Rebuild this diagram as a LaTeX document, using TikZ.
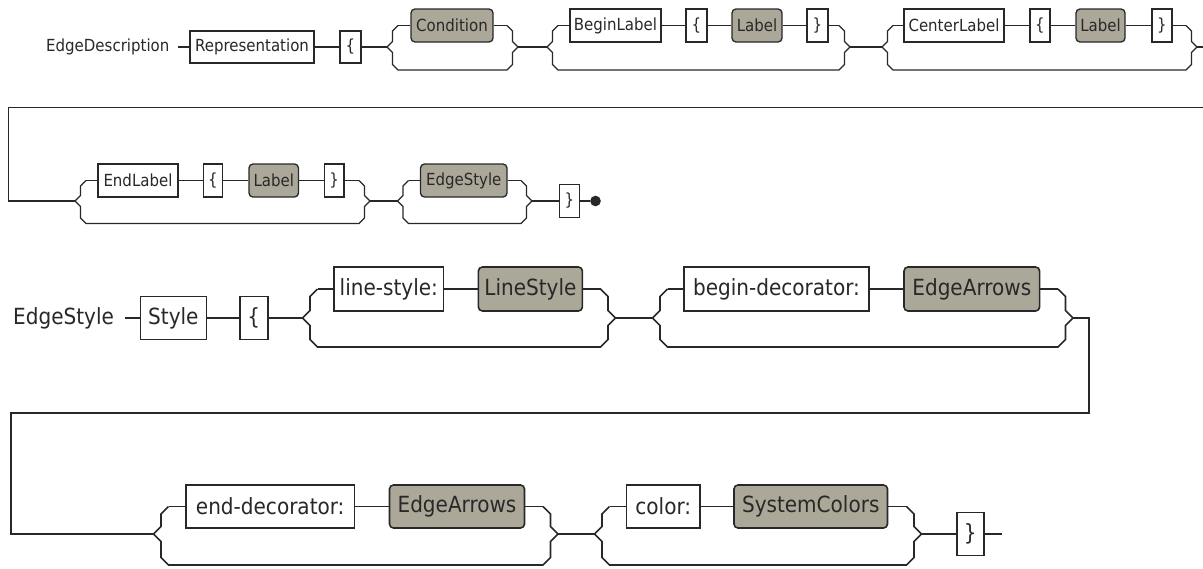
\documentclass[tikz,border=0pt]{standalone}
\usepackage{fontspec}
\usepackage{xcolor}
\newfontfamily\diagfont{DejaVu Sans Condensed}
\definecolor{ntgrey}{RGB}{172,168,153}
\definecolor{linecol}{RGB}{40,40,40}
\newcommand{\smallrr}{\diagfont\fontsize{12.5}{15}\selectfont}
\newcommand{\largerr}{\diagfont\fontsize{16.7}{20}\selectfont}
% optional branch: name, left x, right x, main y, top y, bottom y, corner
\newcommand{\optgroup}[7]{%
  \coordinate (#1-l)  at (#2, #4);
  \coordinate (#1-r)  at (#3, #4);
  \coordinate (#1-lt) at (#2 + 2*#7, #5);
  \coordinate (#1-rt) at (#3 - 2*#7, #5);
  \draw (#1-lt) -- ++(-#7, #7) -- (#2 + #7, #4 - #7) -- (#1-l)
        -- (#2 + #7, #4 + #7) -- (#2 + #7, #6 - #7) -- (#2 + 2*#7, #6)
        -- (#3 - 2*#7, #6) -- (#3 - #7, #6 - #7) -- (#3 - #7, #4 + #7)
        -- (#1-r) -- (#3 - #7, #4 - #7) -- (#3 - #7, #5 + #7) -- (#1-rt);
}

\begin{document}
\begin{tikzpicture}[x=0.75pt, y=-0.75pt, line width=1pt, color=linecol,
    term/.style={draw, fill=white, inner sep=0pt, font=\smallrr},
    nterm/.style={draw, fill=ntgrey, rounded corners=3pt, inner sep=0pt, font=\smallrr},
    sz/.style 2 args={minimum width=#1*0.75pt, minimum height=#2*0.75pt},
    big/.style={font=\largerr}]
  \useasboundingbox (0, 0) rectangle (1203, 568);

  % EdgeDescription, first row
  \node[anchor=east, inner xsep=6pt, inner ysep=0pt, font=\smallrr] (edesc) at (178, 47) {EdgeDescription};
  \node[term, sz={124}{32}] (rep)  at (252, 47)   {Representation};
  \node[term, sz={21}{32}]  (lbrA) at (350.5, 47) {\{};
  \optgroup{gA}{387}{518}{47}{25.5}{70}{5.5}
  \optgroup{gB}{547}{850}{47}{25.5}{70}{5.5}
  \optgroup{gC}{882}{1197}{47}{25.5}{70}{5.5}
  \node[nterm, sz={82}{33}] (cond)    at (452, 25.5)    {Condition};
  \node[term, sz={91}{33}]  (beginl)  at (615.5, 25.5)  {BeginLabel};
  \node[term, sz={21}{33}]  (lbrB)    at (696.5, 25.5)  {\{};
  \node[nterm, sz={50}{33}] (labB)    at (757, 25.5)    {Label};
  \node[term, sz={21}{33}]  (rbrB)    at (817.5, 25.5)  {\}};
  \node[term, sz={100}{33}] (centerl) at (954, 25.5)    {CenterLabel};
  \node[term, sz={20}{33}]  (lbrC)    at (1040, 25.5)   {\{};
  \node[nterm, sz={49}{33}] (labC)    at (1100.5, 25.5) {Label};
  \node[term, sz={20}{33}]  (rbrC)    at (1162, 25.5)   {\}};
  \coordinate (wrapA-out) at (1203, 47);

  \draw (edesc) -- (rep);
  \draw (rep) -- (lbrA);
  \draw (lbrA) -- (gA-l);
  \draw (gA-lt) -- (cond);
  \draw (cond) -- (gA-rt);
  \draw (gA-r) -- (gB-l);
  \draw (gB-lt) -- (beginl);
  \draw (beginl) -- (lbrB);
  \draw (lbrB) -- (labB);
  \draw (labB) -- (rbrB);
  \draw (rbrB) -- (gB-rt);
  \draw (gB-r) -- (gC-l);
  \draw (gC-lt) -- (centerl);
  \draw (centerl) -- (lbrC);
  \draw (lbrC) -- (labC);
  \draw (labC) -- (rbrC);
  \draw (rbrC) -- (gC-rt);
  \draw (gC-r) -- (wrapA-out);

  % EdgeDescription, second row
  \coordinate (wrapA-in)   at (1203, 107.5);
  \coordinate (wrapA-bend) at (8.5, 201);
  \optgroup{gD}{75}{370}{201}{180.5}{223.5}{5.5}
  \optgroup{gE}{397.5}{532}{201}{180.5}{223.5}{5.5}
  \node[term, sz={80}{33}]   (endl)   at (138, 180.5)    {EndLabel};
  \node[term, sz={19}{33}]   (lbrD)   at (213, 180.5)    {\{};
  \node[nterm, sz={49.5}{33}] (labD)  at (273.75, 180.5) {Label};
  \node[term, sz={19.5}{33}] (rbrD)   at (334.25, 180.5) {\}};
  \node[nterm, sz={86.5}{33}] (estyle) at (463.75, 180.5) {EdgeStyle};
  \node[term, sz={20}{33}]   (rbrE)   at (569.5, 201)    {\}};
  \node[circle, fill=linecol, inner sep=0pt, minimum size=8pt] (stop) at (595.5, 201) {};

  \draw (wrapA-in) -| (wrapA-bend) -- (gD-l);
  \draw (gD-lt) -- (endl);
  \draw (endl) -- (lbrD);
  \draw (lbrD) -- (labD);
  \draw (labD) -- (rbrD);
  \draw (rbrD) -- (gD-rt);
  \draw (gD-r) -- (gE-l);
  \draw (gE-lt) -- (estyle);
  \draw (estyle) -- (gE-rt);
  \draw (gE-r) -- (rbrE);
  \draw (rbrE) -- (stop);

  % EdgeStyle, first row
  \begin{scope}[line width=1.2pt]
  \node[anchor=east, inner xsep=7.4pt, inner ysep=0pt, font=\largerr] (estitle) at (124.6, 318) {EdgeStyle};
  \node[term, big, sz={66}{43}]     (style)  at (173.4, 318)  {Style};
  \node[term, big, sz={27.7}{43}]   (lbrF)   at (253.85, 318) {\{};
  \optgroup{gF}{302.5}{615.5}{318}{289}{347}{7.5}
  \optgroup{gG}{652.5}{1073}{318}{289}{347}{7.5}
  \node[term, big, sz={109.6}{44}]  (lstyle) at (388.8, 289)  {line-style:};
  \node[nterm, big, sz={104}{44}]   (linest) at (530.4, 289)  {LineStyle};
  \node[term, big, sz={185}{44}]    (bdec)   at (776.5, 289)  {begin-decorator:};
  \node[nterm, big, sz={135.6}{44}] (earrA)  at (971.8, 289)  {EdgeArrows};
  \coordinate (wrapB-a) at (1089, 318);
  \coordinate (wrapB-b) at (11, 413);

  \draw (estitle) -- (style);
  \draw (style) -- (lbrF);
  \draw (lbrF) -- (gF-l);
  \draw (gF-lt) -- (lstyle);
  \draw (lstyle) -- (linest);
  \draw (linest) -- (gF-rt);
  \draw (gF-r) -- (gG-l);
  \draw (gG-lt) -- (bdec);
  \draw (bdec) -- (earrA);
  \draw (earrA) -- (gG-rt);

  % EdgeStyle, second row
  \optgroup{gH}{153.5}{558}{534}{506.5}{565}{7.5}
  \optgroup{gI}{594.5}{921.5}{534}{506.5}{565}{7.5}
  \node[term, big, sz={168.8}{43}]  (edec)   at (270.2, 506.5)  {end-decorator:};
  \node[nterm, big, sz={135}{43}]   (earrB)  at (457, 506.5)    {EdgeArrows};
  \node[term, big, sz={73.5}{43}]   (colr)   at (663.25, 506.5) {color:};
  \node[nterm, big, sz={153.5}{43}] (syscol) at (810.75, 506.5) {SystemColors};
  \node[term, big, sz={27.3}{43}]   (rbrI)   at (970.35, 534)   {\}};
  \coordinate (finish) at (1001.5, 534);

  \draw (gG-r) -- (wrapB-a) |- (wrapB-b) |- (gH-l);
  \draw (gH-lt) -- (edec);
  \draw (edec) -- (earrB);
  \draw (earrB) -- (gH-rt);
  \draw (gH-r) -- (gI-l);
  \draw (gI-lt) -- (colr);
  \draw (colr) -- (syscol);
  \draw (syscol) -- (gI-rt);
  \draw (gI-r) -- (rbrI);
  \draw (rbrI) -- (finish);
  \end{scope}
\end{tikzpicture}
\end{document}
